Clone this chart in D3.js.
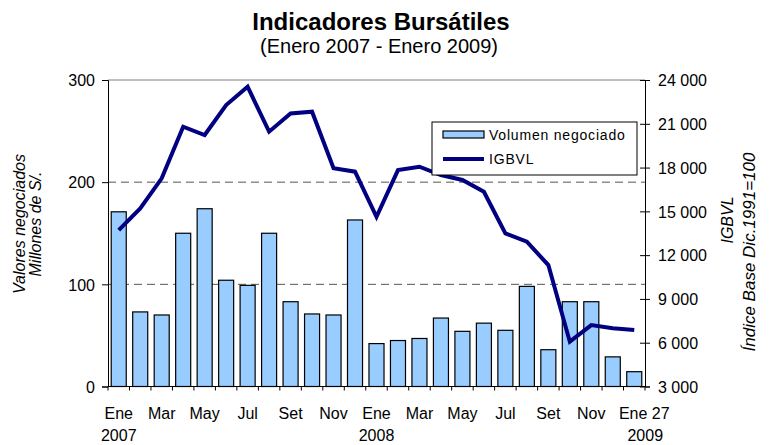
<!DOCTYPE html>
<html>
<head>
<meta charset="utf-8">
<script src="https://cdnjs.cloudflare.com/ajax/libs/d3/7.8.5/d3.min.js"></script>
<style>
  body { margin: 0; background: #fff; }
  svg text { font-family: Arial, "Liberation Sans", sans-serif; fill: #000; }
</style>
</head>
<body>
<div id="chart"></div>
<script>
// Monthly data, Ene 2007 - Ene 2009 (last point: 27 de enero)
var months = ["Ene 07","Feb 07","Mar 07","Abr 07","May 07","Jun 07","Jul 07","Ago 07","Set 07","Oct 07","Nov 07","Dic 07",
              "Ene 08","Feb 08","Mar 08","Abr 08","May 08","Jun 08","Jul 08","Ago 08","Set 08","Oct 08","Nov 08","Dic 08",
              "Ene 09"];
// Volumen negociado (millones de S/.)
var volumen = [171, 73, 70, 150, 174, 104, 99, 150, 83, 71, 70, 163,
               42, 45, 47, 67, 54, 62, 55, 98, 36, 83, 83, 29, 14.5];
// IGBVL (Indice Base Dic.1991=100)
var igbvl = [13720, 15200, 17260, 20800, 20230, 22280, 23540, 20460, 21710, 21830, 17950, 17720,
             14630, 17830, 18060, 17490, 17150, 16340, 13490, 12920, 11320, 6070, 7210, 6990, 6870];
// x tick labels (every other month) and years
var tickLabels = ["Ene","Mar","May","Jul","Set","Nov","Ene","Mar","May","Jul","Set","Nov","Ene 27"];
var yearLabels = [{i: 0, t: "2007"}, {i: 12, t: "2008"}, {i: 24, t: "2009"}];
var leftTicks = [0, 100, 200, 300];
var rightTicks = [3000, 6000, 9000, 12000, 15000, 18000, 21000, 24000];

var width = 770, height = 445;
var plot = {left: 108, right: 645, top: 80, bottom: 386.5};

var svg = d3.select("#chart").append("svg")
    .attr("width", width)
    .attr("height", height);

var x = d3.scaleBand()
    .domain(d3.range(months.length))
    .range([plot.left, plot.right])
    .paddingInner(0.3)
    .paddingOuter(0.15);

var yL = d3.scaleLinear().domain([0, 300]).range([plot.bottom, plot.top]);
var yR = d3.scaleLinear().domain([3000, 24000]).range([plot.bottom, plot.top]);

// Title
svg.append("text")
    .attr("x", 381).attr("y", 30)
    .attr("text-anchor", "middle")
    .style("font-size", "24px").style("font-weight", "bold")
    .text("Indicadores Bursátiles");
svg.append("text")
    .attr("x", 379).attr("y", 53)
    .attr("text-anchor", "middle")
    .style("font-size", "20px")
    .text("(Enero 2007 - Enero 2009)");

// top border of plot area
svg.append("line")
    .attr("x1", plot.left).attr("x2", plot.right)
    .attr("y1", yL(300)).attr("y2", yL(300))
    .attr("stroke", "#808080").attr("stroke-width", 1);

// dashed gridlines
svg.selectAll(".grid")
    .data([100, 200])
  .enter().append("line")
    .attr("class", "grid")
    .attr("x1", plot.left).attr("x2", plot.right)
    .attr("y1", function(d) { return yL(d); })
    .attr("y2", function(d) { return yL(d); })
    .attr("stroke", "#555")
    .attr("stroke-width", 1)
    .attr("stroke-dasharray", "8,5");

// bars
svg.selectAll(".bar")
    .data(volumen)
  .enter().append("rect")
    .attr("class", "bar")
    .attr("x", function(d, i) { return x(i); })
    .attr("y", function(d) { return yL(d); })
    .attr("width", x.bandwidth())
    .attr("height", function(d) { return yL(0) - yL(d); })
    .attr("fill", "#99CCFF")
    .attr("stroke", "#000")
    .attr("stroke-width", 1.2);

// IGBVL line
var line = d3.line()
    .x(function(d, i) { return x(i) + x.bandwidth() / 2; })
    .y(function(d) { return yR(d); });

svg.append("path")
    .datum(igbvl)
    .attr("d", line)
    .attr("fill", "none")
    .attr("stroke", "#000080")
    .attr("stroke-width", 4)
    .attr("stroke-linejoin", "miter");

// left axis
var leftAxis = svg.append("g")
    .attr("transform", "translate(" + plot.left + ",0)")
    .call(d3.axisLeft(yL).tickValues(leftTicks).tickSize(6).tickPadding(7));
leftAxis.select(".domain").attr("stroke", "#000");
leftAxis.selectAll("text").style("font-size", "16px").attr("fill", "#000").attr("dy", "0.36em");

// right axis (cross ticks)
var rightAxis = svg.append("g")
    .attr("transform", "translate(" + plot.right + ",0)")
    .call(d3.axisRight(yR).tickValues(rightTicks).tickSize(5).tickPadding(8)
        .tickFormat(function(d) { return d3.format(",")(d).replace(",", " "); }));
rightAxis.select(".domain").attr("stroke", "#000");
rightAxis.selectAll(".tick line").attr("x1", -5).attr("x2", 5);
rightAxis.selectAll("text").style("font-size", "16px").attr("fill", "#000").attr("dy", "0.36em");

// bottom axis line + small ticks at category boundaries
svg.append("line")
    .attr("x1", plot.left).attr("x2", plot.right)
    .attr("y1", plot.bottom).attr("y2", plot.bottom)
    .attr("stroke", "#000");
svg.selectAll(".xtick")
    .data(d3.range(months.length + 1))
  .enter().append("line")
    .attr("class", "xtick")
    .attr("x1", function(i) { return plot.left + i * x.step(); })
    .attr("x2", function(i) { return plot.left + i * x.step(); })
    .attr("y1", plot.bottom).attr("y2", plot.bottom + 4)
    .attr("stroke", "#000");

// x labels
svg.selectAll(".xlabel")
    .data(tickLabels)
  .enter().append("text")
    .attr("class", "xlabel")
    .attr("x", function(d, i) { return x(i * 2) + x.bandwidth() / 2 + (i === tickLabels.length - 1 ? 10 : 0); })
    .attr("y", 419)
    .attr("text-anchor", "middle")
    .style("font-size", "16px")
    .text(function(d) { return d; });
svg.selectAll(".year")
    .data(yearLabels)
  .enter().append("text")
    .attr("class", "year")
    .attr("x", function(d) { return x(d.i) + x.bandwidth() / 2 + (d.i === 24 ? 11 : 0); })
    .attr("y", 441)
    .attr("text-anchor", "middle")
    .style("font-size", "16px")
    .text(function(d) { return d.t; });

// axis titles
svg.append("text")
    .attr("transform", "translate(25,224) rotate(-90)")
    .attr("text-anchor", "middle")
    .style("font-size", "16px").style("font-style", "italic")
    .text("Valores negociados");
svg.append("text")
    .attr("transform", "translate(41,224) rotate(-90)")
    .attr("text-anchor", "middle")
    .style("font-size", "16px").style("font-style", "italic")
    .text("Millones de S/.");
svg.append("text")
    .attr("transform", "translate(733,220) rotate(-90)")
    .attr("text-anchor", "middle")
    .style("font-size", "16px").style("font-style", "italic")
    .text("IGBVL");
svg.append("text")
    .attr("transform", "translate(755,252) rotate(-90)")
    .attr("text-anchor", "middle")
    .style("font-size", "17px").style("font-style", "italic")
    .text("Índice Base Dic.1991=100");

// legend
var legend = svg.append("g").attr("transform", "translate(432,122)");
legend.append("rect")
    .attr("width", 205).attr("height", 53)
    .attr("fill", "#fff").attr("stroke", "#000").attr("stroke-width", 1);
legend.append("rect")
    .attr("x", 11).attr("y", 9).attr("width", 41).attr("height", 7)
    .attr("fill", "#99CCFF").attr("stroke", "#000").attr("stroke-width", 1.2);
legend.append("text")
    .attr("x", 57).attr("y", 18)
    .style("font-size", "14px").style("letter-spacing", "0.8px")
    .text("Volumen negociado");
legend.append("line")
    .attr("x1", 11).attr("x2", 52).attr("y1", 37).attr("y2", 37)
    .attr("stroke", "#000080").attr("stroke-width", 4);
legend.append("text")
    .attr("x", 57).attr("y", 42)
    .style("font-size", "14px").style("letter-spacing", "0.8px")
    .text("IGBVL");
</script>
</body>
</html>
